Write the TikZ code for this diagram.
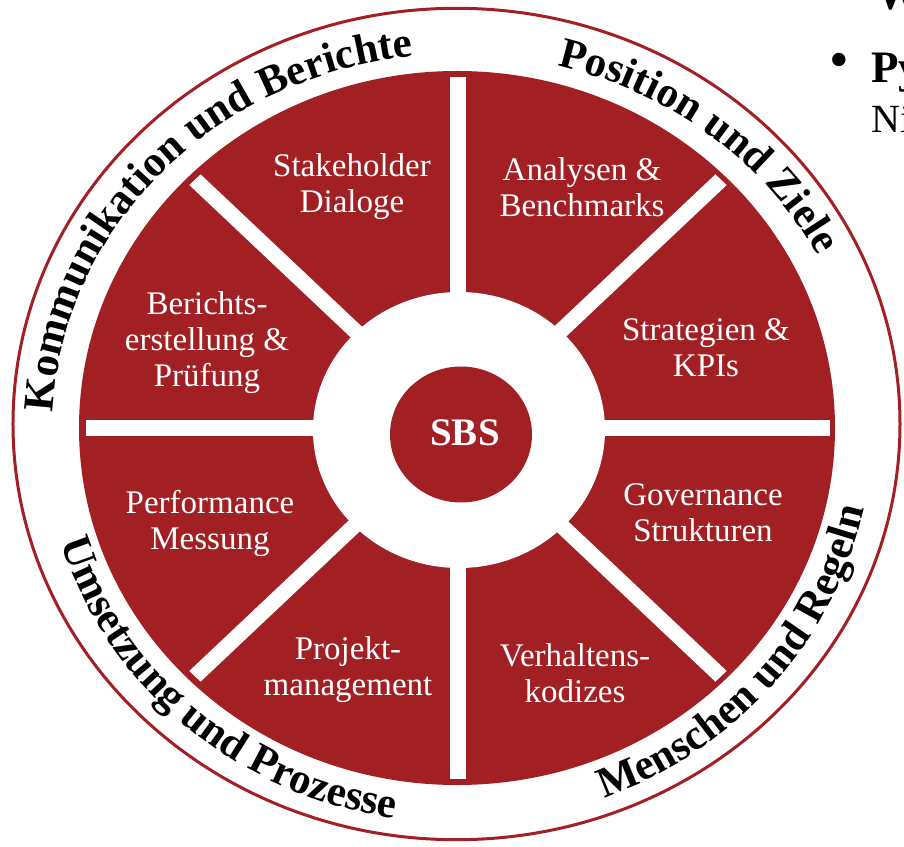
\documentclass[tikz,border=0pt]{standalone}
\usepackage{fontspec}
\setmainfont{Liberation Serif}
\usetikzlibrary{decorations.text}
\definecolor{sbsred}{RGB}{162,32,36}
\begin{document}
\begin{tikzpicture}[x=1pt,y=1pt,
  lbl/.style={text=white, align=center, font=\fontsize{33}{36}\selectfont, inner sep=0pt},
  frag/.style={anchor=base west, inner sep=0pt, text=black},
  ringtext/.style={decorate, decoration={text along path, text align=center, text={#1}}}
]
\clip (-458,-418) rectangle (446,428);
\fill[white] (-458,-418) rectangle (446,428);
% outer ring
\draw[sbsred, line width=3pt] (-1.5,4) ellipse [x radius=443.5, y radius=415.7];
% red disk
\fill[sbsred] (-1,0) ellipse [x radius=378, y radius=357];
% white separating bars
\begin{scope}[yscale=0.944]
  \foreach \a in {0,45,90,135} {
    \fill[white, rotate=\a] (-372,-8) rectangle (372,8);
  }
\end{scope}
% white hole
\fill[white] (1,-2) ellipse [x radius=146, y radius=138];
% centre
\fill[sbsred] (3,-6.5) ellipse [x radius=71, y radius=68];
\node (sbs) at (7,-4.5) [text=white, inner sep=0pt, font=\bfseries\fontsize{39}{39}\selectfont] {SBS};
% segment labels
\node (stake) [lbl] at (-106,241) {Stakeholder\\Dialoge};
\node (analy) [lbl] at (124,241) {Analysen \&\\Benchmarks};
\node (strat) [lbl] at (248,80) {Strategien \&\\KPIs};
\node (gov)   [lbl] at (245,-85) {Governance\\Strukturen};
\node (verh)  [lbl] at (117,-245) {Verhaltens-\\kodizes};
\node (proj)  [lbl] at (-110,-242) {Projekt-\\management};
\node (perf)  [lbl] at (-248,-95) {Performance\\Messung};
\node (ber)   [lbl] at (-251,85) {Berichts-\\erstellung \&\\Prüfung};
% ring labels
\path[ringtext={|\bfseries\fontsize{43}{43}\selectfont|Kommunikation und Berichte}]
  (192.5:405 and 374) arc[start angle=192.5, end angle=82.5, x radius=405, y radius=374];
\path[ringtext={|\bfseries\fontsize{43}{43}\selectfont|Position und Ziele}]
  (104.5:405 and 374) arc[start angle=104.5, end angle=-3.5, x radius=405, y radius=374];
\path[ringtext={|\bfseries\fontsize{43}{43}\selectfont|Umsetzung und Prozesse}]
  (173.5:415 and 395) arc[start angle=173.5, end angle=283.5, x radius=415, y radius=395];
\path[ringtext={|\bfseries\fontsize{43}{43}\selectfont|Menschen und Regeln}]
  (265:415 and 395) arc[start angle=265, end angle=375, x radius=415, y radius=395];
% fragments of neighbouring text
\node (wfrag) [frag, font=\bfseries\fontsize{45}{45}\selectfont] at (418,418) {W};
\node (bullet) [inner sep=0pt, font=\fontsize{56}{56}\selectfont] at (381,362) {•};
\node (pyfrag) [frag, font=\bfseries\fontsize{45}{45}\selectfont] at (413,345) {Py};
\node (nifrag) [frag, font=\fontsize{40}{40}\selectfont] at (413,295) {Ni};
\end{tikzpicture}
\end{document}
